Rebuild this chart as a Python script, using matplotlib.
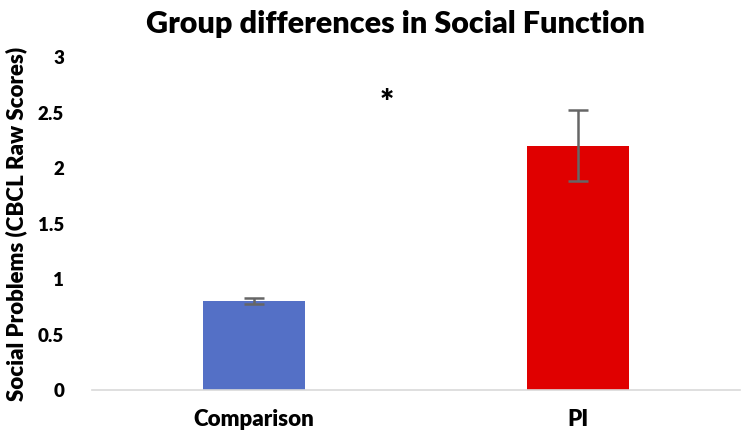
import matplotlib
matplotlib.use("Agg")
import matplotlib.pyplot as plt

categories = ["Comparison", "PI"]
values = [0.80, 2.20]
errors = [0.025, 0.32]
colors = ["#5470C6", "#E00000"]
yticks = [0, 0.5, 1, 1.5, 2, 2.5, 3]
ytick_labels = ["0", "0.5", "1", "1.5", "2", "2.5", "3"]

plt.rcParams['font.family'] = ['Lato', 'DejaVu Sans']
W = 'heavy'

fig = plt.figure(figsize=(7.5, 4.41), dpi=100)
ax = fig.add_axes([0.1227, 0.1156, 0.864, 0.755])

x = list(range(len(categories)))
ax.bar(x, values, width=0.315, color=colors, zorder=2)
ax.errorbar(x, values, yerr=errors, fmt='none', ecolor='#666666', elinewidth=1.8,
            capsize=7, capthick=1.8, zorder=3)

ax.set_xlim(-0.5, 1.5)
ax.set_ylim(0, 3)
ax.set_yticks(yticks)
ax.set_yticklabels(ytick_labels, fontsize=13.5, fontweight=W)
ax.set_xticks(x)
ax.set_xticklabels(categories, fontsize=16, fontweight=W)
ax.tick_params(axis='both', length=0)
ax.tick_params(axis='y', pad=20)
ax.tick_params(axis='x', pad=14)

for s in ['top', 'right', 'left']:
    ax.spines[s].set_visible(False)
ax.spines['bottom'].set_color('#D9D9D9')
ax.spines['bottom'].set_linewidth(1.2)

ax.set_ylabel("Social Problems (CBCL Raw Scores)", fontsize=16, fontweight=W, labelpad=8)
ax.text(0.41, 2.58, "*", fontsize=24, fontweight=W, ha='center', va='center')

fig.text(0.527, 0.945, "Group differences in Social Function", fontsize=22,
         fontweight=W, ha='center', va='center')

fig.savefig("out.png", dpi=100)
